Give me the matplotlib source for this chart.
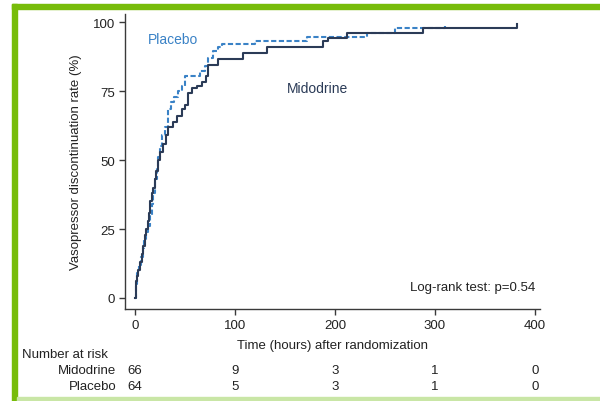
import matplotlib
matplotlib.use("Agg")
import matplotlib.pyplot as plt
import matplotlib.transforms as mtransforms
from matplotlib.patches import Rectangle

plt.rcParams["font.family"] = ["Liberation Sans", "DejaVu Sans"]

# cumulative discontinuation (%)
midodrine_t = [0, 0.5, 1, 2, 3, 5, 7, 8, 10, 11, 13, 14, 15, 17, 18, 20, 21, 23,
               25, 28, 31, 33, 38, 42, 47, 50, 53, 57, 62, 67, 71, 73, 83, 108,
               132, 188, 193, 212, 288, 382, 382]
midodrine_v = [0, 3, 6, 8, 10, 13, 16, 19, 23, 25, 28, 31, 35, 38, 40, 43, 46, 50,
               53, 56, 59, 62, 64, 66, 68.5, 70, 74.5, 76, 77, 78.5, 80.5, 84.5,
               86.5, 89, 91, 93.2, 94.4, 96.2, 97.8, 97.8, 99.5]

placebo_t = [0, 0.5, 1, 2, 4, 6, 8, 9, 11, 13, 15, 17, 18, 20, 22, 23, 25, 27, 30,
             33, 36, 39, 43, 47, 50, 65, 70, 73, 78, 83, 87, 120, 172, 232, 260,
             310, 310]
placebo_v = [0, 3, 5, 9, 12, 15, 18, 21, 24, 26, 30, 34, 38, 43, 48, 51, 55, 59,
             62, 68.5, 71, 73, 75, 77, 80.5, 82.3, 84, 87, 89.5, 91, 92.3, 93.2,
             94.8, 96.2, 97.8, 97.8, 98.8]

x_ticks = [0, 100, 200, 300, 400]
y_ticks = [0, 25, 50, 75, 100]
risk_groups = ["Midodrine", "Placebo"]
risk_midodrine = [66, 9, 3, 1, 0]
risk_placebo = [64, 5, 3, 1, 0]

W, H = 600, 402
C_PLAC = "#3a82c6"
C_MIDO = "#2b3b57"
C_AX = "#3a3a3a"


def fx(px):
    return px / W


def fy(py):
    return 1 - py / H


fig = plt.figure(figsize=(6.0, 4.02), dpi=100)
ax = fig.add_axes([fx(125), fy(310), (540 - 125) / W, (310 - 15) / H])

ax.step(placebo_t, placebo_v, where="post", color=C_PLAC, lw=1.5,
        linestyle=(0, (2.5, 1.2)))
ax.step(midodrine_t, midodrine_v, where="post", color=C_MIDO, lw=1.5)

ax.set_xlim(-10, 405)
ax.set_ylim(-4, 103)
ax.set_xticks(x_ticks)
ax.set_yticks(y_ticks)
for s in ("top", "right"):
    ax.spines[s].set_visible(False)
for s in ("left", "bottom"):
    ax.spines[s].set_color(C_AX)
    ax.spines[s].set_linewidth(1.0)
ax.tick_params(direction="out", length=4, width=1.0, color=C_AX,
               labelsize=9.5, labelcolor="#222222", pad=3)

ax.set_xlabel("Time (hours) after randomization", fontsize=9.5, color="#222222",
              labelpad=6)
ax.set_ylabel("Vasopressor discontinuation rate (%)", fontsize=9.5,
              color="#222222", labelpad=8)

ax.text(13, 94, "Placebo", color=C_PLAC, fontsize=10, va="center")
ax.text(152, 76, "Midodrine", color=C_MIDO, fontsize=10, va="center")
ax.text(400, 4, "Log-rank test: p=0.54", fontsize=9.5, color="#222222",
        ha="right", va="center")

# number at risk table
blend = mtransforms.blended_transform_factory(ax.transData, fig.transFigure)
fig.text(fx(22), fy(355), "Number at risk", fontsize=9.5, color="#222222",
         va="center")
for row_y, name, counts in [(371, risk_groups[0], risk_midodrine),
                            (387, risk_groups[1], risk_placebo)]:
    fig.text(fx(116), fy(row_y), name, fontsize=9.5, color="#222222",
             ha="right", va="center")
    for t, n in zip(x_ticks, counts):
        ax.text(t, fy(row_y), str(n), transform=blend, fontsize=9.5,
                color="#222222", ha="center", va="center", clip_on=False)

# green frame
green = "#77bc0a"
fig.patches.append(Rectangle((fx(12), 0), fx(5), fy(5), transform=fig.transFigure,
                             color=green, zorder=0))
fig.patches.append(Rectangle((fx(12), fy(10)), fx(W - 12), 5 / H,
                             transform=fig.transFigure, color=green, zorder=0))
fig.patches.append(Rectangle((fx(17), 0), fx(W - 17), 4 / H,
                             transform=fig.transFigure, color="#c9e6a6", zorder=0))

fig.savefig("out.png", dpi=100)
